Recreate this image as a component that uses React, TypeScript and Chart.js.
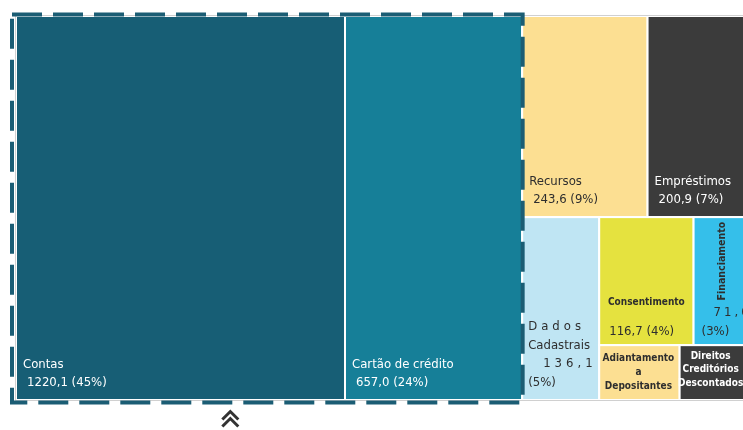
import React, { useEffect, useRef } from "react";
import { Chart, registerables } from "chart.js";

Chart.register(...registerables);

// ---- data ----
const categories = [
  "Contas",
  "Cartão de crédito",
  "Recursos",
  "Empréstimos",
  "Dados Cadastrais",
  "Consentimento",
  "Financiamento",
  "Adiantamento a Depositantes",
  "Direitos Creditórios Descontados",
];
const values = [1220.1, 657.0, 243.6, 200.9, 136.1, 116.7, 71.0, 42.6, 37.8];
const percentLabels = ["45%", "24%", "9%", "7%", "5%", "4%", "3%", "", ""];
const colors = [
  "#175e75",
  "#167f98",
  "#fcdf92",
  "#3b3b3b",
  "#bfe5f3",
  "#e5e23f",
  "#35bfea",
  "#fcdf92",
  "#3b3b3b",
];
// slice-and-dice structure ("h" = side by side, "v" = stacked)
const layoutTree: any = ["h", 0, 1, ["v", ["h", 2, 3], ["h", 4, ["v", ["h", 5, 6], ["h", 7, 8]]]]];
const highlighted = [0, 1];

const FONT = '"DejaVu Sans Condensed", "Liberation Sans Narrow", Roboto, sans-serif';

function nodeSum(node: any): number {
  if (typeof node === "number") return values[node];
  return node.slice(1).reduce((s: number, n: any) => s + nodeSum(n), 0);
}

type R = { i: number; x0: number; y0: number; x1: number; y1: number };

function layout(node: any, x0: number, y0: number, x1: number, y1: number, out: R[]) {
  if (typeof node === "number") {
    out.push({ i: node, x0, y0, x1, y1 });
    return;
  }
  const dir = node[0];
  const kids = node.slice(1);
  const total = nodeSum(node);
  let acc = 0;
  for (const k of kids) {
    const a = acc / total;
    acc += nodeSum(k);
    const b = acc / total;
    if (dir === "h") layout(k, x0 + (x1 - x0) * a, y0, x0 + (x1 - x0) * b, y1, out);
    else layout(k, x0, y0 + (y1 - y0) * a, x1, y0 + (y1 - y0) * b, out);
  }
}

function fmt(i: number) {
  return values[i].toFixed(1).replace(".", ",");
}

const treemapPlugin = {
  id: "treemap",
  afterDatasetsDraw(chart: any) {
    const { ctx, scales } = chart;
    const xs = scales.x;
    const ys = scales.y;
    const rects: R[] = [];
    layout(layoutTree, 0, 0, 1, 1, rects);
    const px = rects.map((r) => ({
      i: r.i,
      l: xs.getPixelForValue(r.x0),
      r: xs.getPixelForValue(r.x1),
      t: ys.getPixelForValue(r.y0),
      b: ys.getPixelForValue(r.y1),
    }));
    ctx.save();
    for (const p of px) {
      ctx.fillStyle = colors[p.i];
      ctx.fillRect(p.l, p.t, p.r - p.l, p.b - p.t);
      ctx.strokeStyle = "#ffffff";
      ctx.lineWidth = 2;
      ctx.strokeRect(p.l, p.t, p.r - p.l, p.b - p.t);
    }
    const area = chart.chartArea;
    ctx.strokeStyle = "#d0d0d0";
    ctx.lineWidth = 1;
    ctx.strokeRect(area.left - 0.5, area.top - 0.5, area.right - area.left + 1, area.bottom - area.top + 1);

    const dark = "#2e2e2e";
    const txt = (s: string, x: number, y: number, font: string, color: string, align: CanvasTextAlign = "left", spacing = "0px") => {
      ctx.font = font;
      ctx.fillStyle = color;
      ctx.textAlign = align;
      ctx.textBaseline = "middle";
      (ctx as any).letterSpacing = spacing;
      ctx.fillText(s, x, y);
      (ctx as any).letterSpacing = "0px";
    };
    const big = `500 13px ${FONT}`;
    const small = `bold 10px ${FONT}`;
    const get = (i: number) => px.find((p) => p.i === i)!;
    [0, 1, 2, 3].forEach((i) => {
      const p = get(i);
      const c = i === 2 ? dark : "#ffffff";
      txt(categories[i], p.l + 7, p.b - 35, big, c);
      txt(`${fmt(i)} (${percentLabels[i]})`, p.l + 11, p.b - 17, big, c);
    });
    {
      const p = get(4);
      const [w1, w2] = categories[4].split(" ");
      txt(w1, p.l + 6, p.b - 73, big, dark, "left", "4px");
      txt(w2, p.l + 6, p.b - 54, big, dark);
      txt(fmt(4), p.l + 21, p.b - 36, big, dark, "left", "4px");
      txt(`(${percentLabels[4]})`, p.l + 6, p.b - 17, big, dark);
    }
    {
      const p = get(5);
      txt(categories[5], (p.l + p.r) / 2, p.t + 85, small, dark, "center");
      txt(`${fmt(5)} (${percentLabels[5]})`, p.l + 10, p.t + 115, big, dark);
    }
    {
      const p = get(6);
      ctx.save();
      ctx.translate(p.l + 29, p.t + 44);
      ctx.rotate(-Math.PI / 2);
      txt(categories[6], 0, 0, `bold 10.5px ${FONT}`, dark, "center");
      ctx.restore();
      txt(fmt(6), p.l + 20, p.t + 96, big, dark, "left", "3px");
      txt(`(${percentLabels[6]})`, p.l + 8, p.t + 115, big, dark);
    }
    {
      const p = get(7);
      const lines = ["Adiantamento", "a", "Depositantes"];
      lines.forEach((s, k) => txt(s, (p.l + p.r) / 2 - 1, p.t + 13 + k * 14, small, dark, "center"));
    }
    {
      const p = get(8);
      const lines = ["Direitos", "Creditórios", "Descontados"];
      lines.forEach((s, k) => txt(s, p.l + 31, p.t + 11 + k * 13.5, small, "#ffffff", "center"));
    }

    const hl = px.filter((p) => highlighted.includes(p.i));
    const L = Math.min(...hl.map((p) => p.l)) - 4;
    const Rr = Math.max(...hl.map((p) => p.r)) + 0.5;
    const T = Math.min(...hl.map((p) => p.t)) - 1.5;
    const B = Math.max(...hl.map((p) => p.b)) + 2.5;
    ctx.strokeStyle = "#1b5d74";
    ctx.lineWidth = 4;
    ctx.setLineDash([30, 11]);
    ctx.strokeRect(L, T, Rr - L, B - T);
    ctx.setLineDash([]);

    const cx = (L + Rr) / 2 - 37;
    const cy = B + 14;
    ctx.strokeStyle = "#333333";
    ctx.lineWidth = 3;
    ctx.lineJoin = "miter";
    ctx.beginPath();
    ctx.moveTo(cx - 8, cy + 3);
    ctx.lineTo(cx, cy - 5);
    ctx.lineTo(cx + 8, cy + 3);
    ctx.stroke();
    ctx.beginPath();
    ctx.moveTo(cx - 8, cy + 10);
    ctx.lineTo(cx, cy + 2);
    ctx.lineTo(cx + 8, cy + 10);
    ctx.stroke();
    ctx.restore();
  },
};

export default function App() {
  const ref = useRef<HTMLCanvasElement | null>(null);
  useEffect(() => {
    document.documentElement.style.overflow = "hidden";
    const chart = new Chart(ref.current!, {
      type: "scatter",
      data: { datasets: [{ data: [] }] },
      options: {
        animation: false,
        responsive: false,
        events: [],
        layout: { padding: { left: 8, top: 8, right: 3, bottom: 30 } },
        plugins: { legend: { display: false }, tooltip: { enabled: false } },
        scales: {
          x: { type: "linear", min: 0, max: 1, display: false },
          y: { type: "linear", min: 0, max: 1, reverse: true, display: false },
        },
      },
      plugins: [treemapPlugin],
    });
    return () => chart.destroy();
  }, []);
  return (
    <div style={{ position: "fixed", left: 8, top: 8, width: 746, height: 422 }}>
      <canvas ref={ref} width={746} height={422} style={{ display: "block" }} />
    </div>
  );
}
